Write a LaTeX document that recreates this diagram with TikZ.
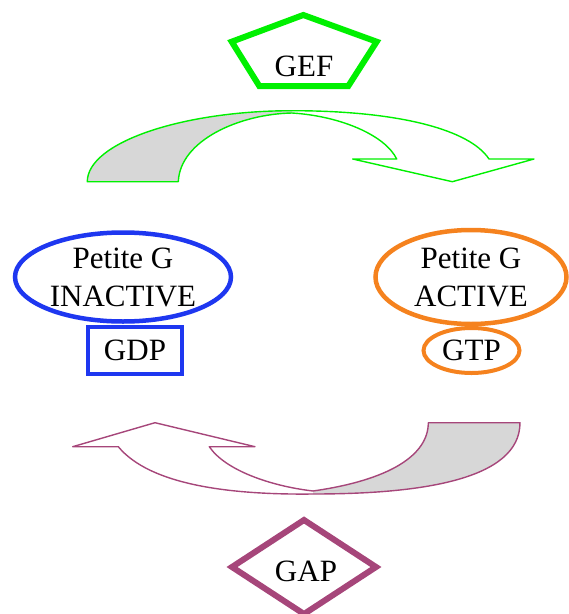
\documentclass[tikz,border=0pt]{standalone}
\usepackage{fontspec}
\setmainfont{Liberation Serif}
\usetikzlibrary{shapes.geometric}
\definecolor{gefgreen}{RGB}{0,240,0}
\definecolor{gapviolet}{RGB}{166,70,122}
\definecolor{inblue}{RGB}{30,55,240}
\definecolor{actorange}{RGB}{245,130,30}
\definecolor{backgrey}{RGB}{215,215,215}

\begin{document}
\begin{tikzpicture}[x=1pt,y=-1pt,
  every node/.style={font=\fontsize{31}{38}\selectfont, align=center, inner sep=0pt},
  flow/.style={line width=1.4pt, line join=round}]
\useasboundingbox (0,0) rectangle (569,614);

% the two states of the protein
\node (I) at (123,277) {Petite G\\INACTIVE};
\node (A) at (471,277) {Petite G\\ACTIVE};
\draw[inblue,line width=4.5pt] (I.center) ellipse [x radius=108pt, y radius=44.5pt];
\draw[actorange,line width=4.5pt] (A.center) ellipse [x radius=95.5pt, y radius=47pt];
\node[draw=inblue,line width=4pt,minimum width=94pt,minimum height=47pt] (D) at (135,350.5) {\raisebox{-3pt}{GDP}};
\node[draw=actorange,line width=4pt,shape=ellipse,minimum width=96pt,minimum height=45pt] (T) at (471.5,350.5) {GTP};

% GEF
\draw[gefgreen,line width=6pt,line join=miter] (303.3,15) -- (376.7,41.7) -- (348.3,86) -- (259.3,86) -- (231.7,41.7) -- cycle;
\node (F) at (304,66) {GEF};

% GAP
\draw[gapviolet,line width=6pt,line join=miter] (304,520) -- (376,567) -- (304,614) -- (232,567) -- cycle;
\node (P) at (306,571) {GAP};

% arrow GEF
\fill[backgrey] (87.3,181.7) .. controls (87.3,142.5) and (182.4,110.7) .. (292,110.7)
  -- (292,113) .. controls (240,114) and (180,140) .. (178.3,181.7) -- cycle;
\draw[gefgreen,flow] (87.3,181.7) .. controls (87.3,142.5) and (182.4,110.7) .. (292,110.7)
  .. controls (400,110.7) and (470,130) .. (489,159) -- (534,159) -- (452.3,181.7)
  -- (352.7,159) -- (396.7,159) .. controls (385,135) and (340,116) .. (292,113)
  .. controls (240,114) and (180,140) .. (178.3,181.7) -- cycle;

% arrow GAP
\fill[backgrey] (520,422.7) .. controls (520,480) and (420,494) .. (313,494)
  -- (313,491) .. controls (390,480) and (428.3,455) .. (428.3,422.7) -- cycle;
\draw[gapviolet,flow] (520,422.7) .. controls (520,480) and (420,494) .. (313,494)
  .. controls (230,495) and (150,485) .. (118.3,446.7) -- (72.7,446.7) -- (155,422.7)
  -- (255,446.7) -- (209.3,446.7) .. controls (225,470) and (270,486) .. (313,491)
  .. controls (390,480) and (428.3,455) .. (428.3,422.7) -- cycle;
\end{tikzpicture}
\end{document}
